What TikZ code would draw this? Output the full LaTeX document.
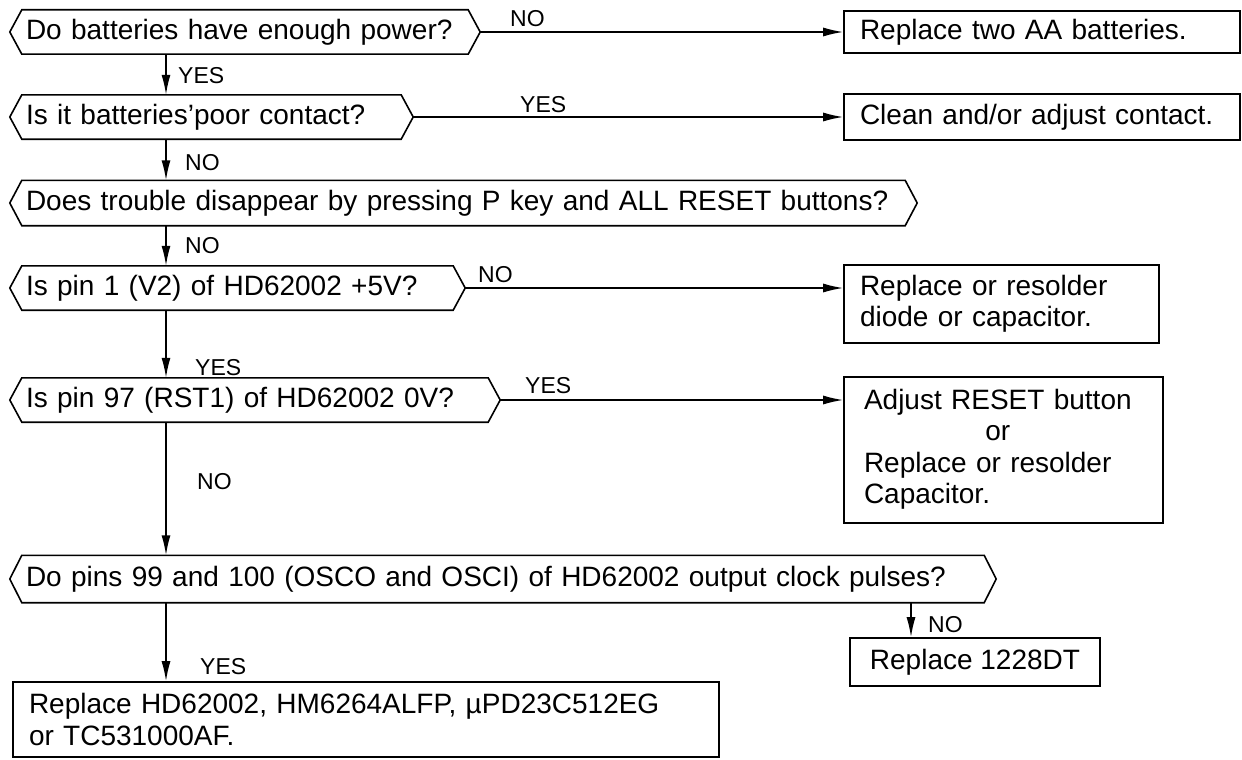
\documentclass[tikz,border=0pt]{standalone}
\usepackage{fontspec}
\setmainfont{Liberation Sans}
\usetikzlibrary{arrows.meta}
\newcommand\hexo[1]{\draw[ln] ([xshift=12pt]#1.north west) -- ([xshift=-12pt]#1.north east) -- (#1.east) -- ([xshift=-12pt]#1.south east) -- ([xshift=12pt]#1.south west) -- (#1.west) -- cycle;}
\begin{document}
\begin{tikzpicture}[x=1pt,y=-1pt,
 ln/.style={line width=1.6pt},
 arr/.style={line width=1.6pt,-{Latex[length=20pt,width=9pt]}},
 hexq/.style={draw=none, minimum height=44pt, inner xsep=16pt, inner ysep=0pt, align=left, font=\fontsize{28}{31}\selectfont},
 act/.style={draw, line width=1.6pt, inner xsep=16pt, inner ysep=0pt, align=left, font=\fontsize{28}{31.5}\selectfont},
 actc/.style={draw, line width=1.6pt, inner xsep=8pt, inner ysep=0pt, align=center, font=\fontsize{28}{31.5}\selectfont},
 lbl/.style={font=\fontsize{23}{26}\selectfont, inner sep=0pt, anchor=west},
]
\useasboundingbox (0,0) rectangle (1242,760);

% decision nodes
\node[hexq, text width=438pt] (n1) at (245,32) {\mbox{Do batteries have enough power?}};
\node[hexq, text width=371pt] (n2) at (211.5,117) {\mbox{Is it batteries'poor contact?}};
\node[hexq, text width=875pt, minimum height=45pt] (n3) at (463.5,203) {\mbox{Does trouble disappear by pressing P key and ALL RESET buttons?}};
\node[hexq, text width=423pt] (n4) at (237.5,288) {\mbox{Is pin 1 (V2) of HD62002 +5V?}};
\node[hexq, text width=458pt] (n5) at (255,400) {\mbox{Is pin 97 (RST1) of HD62002 0V?}};
\node[hexq, text width=954pt, minimum height=47pt] (n6) at (503,579) {\mbox{Do pins 99 and 100 (OSCO and OSCI) of HD62002 output clock pulses?}};
\hexo{n1}\hexo{n2}\hexo{n3}\hexo{n4}\hexo{n5}\hexo{n6}

% action boxes
\node[act, text width=364pt, minimum height=42pt] (b1) at (1042,32) {Replace two AA batteries.};
\node[act, text width=364pt, minimum height=46pt] (b2) at (1042,117) {Clean and/or adjust contact.};
\node[act, text width=283pt, minimum height=78pt] (b3) at (1001.5,304) {Replace or resolder\\diode or capacitor.};
\node[act, inner xsep=20pt, text width=279pt, minimum height=146pt] (b4) at (1003.5,450)
  {\begin{tabular}{@{}l@{}}Adjust RESET button\\\multicolumn{1}{@{}c@{}}{or}\\Replace or resolder\\Capacitor.\end{tabular}};
\node[actc, minimum width=250pt, minimum height=48pt] (b5) at (975,662) {Replace 1228DT};
\node[act, text width=674pt, minimum height=75pt] (fb) at (366,719.5) {Replace HD62002, HM6264ALFP, µPD23C512EG\\or TC531000AF.};

% labels
\node[lbl] (l1) at (510,19) {NO};
\node[lbl] (l2) at (178,76) {YES};
\node[lbl] (l3) at (520,105) {YES};
\node[lbl] (l4) at (185,163) {NO};
\node[lbl] (l5) at (185,246) {NO};
\node[lbl] (l6) at (478,275) {NO};
\node[lbl] (l7) at (195,368) {YES};
\node[lbl] (l8) at (525,386) {YES};
\node[lbl] (l9) at (197,482) {NO};
\node[lbl] (l10) at (928,625) {NO};
\node[lbl] (l11) at (200,667) {YES};

% connectors
\coordinate (sp) at (166,0);
\coordinate (nx) at (911,0);
\draw[arr] (n1.east) -- (b1.west);
\draw[arr] (sp |- n1.south) -- (sp |- n2.north);
\draw[arr] (n2.east) -- (b2.west);
\draw[arr] (sp |- n2.south) -- (sp |- n3.north);
\draw[arr] (sp |- n3.south) -- (sp |- n4.north);
\draw[arr] (n4.east) -- (n4.east -| b3.west);
\draw[arr] (sp |- n4.south) -- (sp |- n5.north);
\draw[arr] (n5.east) -- (n5.east -| b4.west);
\draw[arr] (sp |- n5.south) -- (sp |- n6.north);
\draw[arr] (nx |- n6.south) -- (nx |- b5.north);
\draw[arr] (sp |- n6.south) -- (sp |- fb.north);
\end{tikzpicture}
\end{document}
